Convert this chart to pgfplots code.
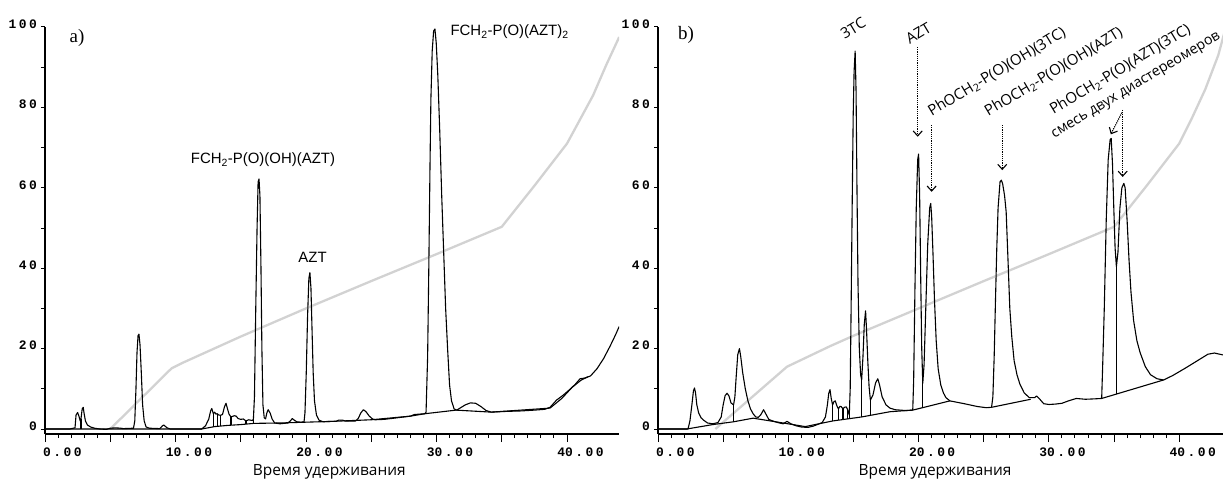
\documentclass[border=0pt]{standalone}
\usepackage{fontspec}
\usepackage{pgfplots}
\pgfplotsset{compat=1.18}
\usetikzlibrary{arrows.meta}
\setmainfont{Liberation Sans}
\newfontfamily\tickfont[LetterSpace=19]{Liberation Mono}
\newfontfamily\osans{Open Sans}
\newfontfamily\serifl{Liberation Serif}
\definecolor{grad}{RGB}{210,210,210}
\tikzset{arr/.style={densely dotted, line width=1.2bp, -{Straight Barb[length=5bp,width=9bp,line width=1.1bp]}}}
\pgfplotsset{
  chrom/.style={
    scale only axis, clip mode=individual, anchor=south west,
    height=407bp, xmin=0, ymin=-1.24, ymax=100,
    axis x line=bottom, axis y line=left,
    x axis line style={-, line width=1.3bp},
    y axis line style={-, line width=1.3bp},
    xtick={0,5,...,40},
    xticklabels={0.00,,\makebox[0pt][r]{1}0.00,,\makebox[0pt][r]{2}0.00,,\makebox[0pt][r]{3}0.00,,\makebox[0pt][r]{4}0.00},
    minor x tick num=4,
    ytick={0,20,...,100}, minor ytick={0,10,...,100},
    yticklabels={0,20,40,60,80,100},
    major y tick style={draw=none},
    tick align=outside, major tick length=8bp, minor tick length=4bp,
    every tick/.style={black, line width=1bp},
    tick label style={font=\tickfont\bfseries\fontsize{13}{14}\selectfont, inner sep=0pt},
    xticklabel style={anchor=north west, xshift=-2bp, yshift=-6bp},
    yticklabel style={anchor=east, xshift=0bp, yshift=3bp},
  },
  cline/.style={black, line width=1.1bp, line join=round, mark=none},
  gline/.style={grad, line width=2.3bp, line join=round, mark=none},
}
\begin{document}
\begin{tikzpicture}
\path[use as bounding box] (0,0) rectangle (1223bp,482bp);
% ---------------- panel a ----------------
\begin{axis}[chrom, at={(45bp,48bp)}, width=574.2bp, xmax=44]
\addplot[gline] coordinates {(5.0,0) (9.7,15.1) (10.5,16.4) (12,18.6) (15,23) (20,30) (25,36.8) (30,43.5) (35,50.3) (37.5,60.5) (40,71) (41,77) (42,83) (43,90.5) (44,97.5)};
\addplot[cline] coordinates {(0,0) (1.9,0) (2.3,0.3) (2.38,3.5) (2.5,4.1) (2.6,3.2) (2.7,2.0) (2.76,2.6) (2.85,5.0) (2.93,5.4) (3.0,3.8) (3.1,2.0) (3.25,1.0) (3.5,0.5) (3.8,0.2) (4.2,0) (4.7,-0.1) (5.0,0.2) (5.4,0.3) (5.8,0.2) (6.0,0.1) (6.78,0.2) (6.88,2) (6.97,10) (7.05,19) (7.13,23.2) (7.2,23.6) (7.28,21) (7.38,14) (7.48,6) (7.6,2) (7.75,0.5) (8.0,0.2) (8.8,0.1) (9.0,0.8) (9.1,1.0) (9.35,0.3) (9.6,0) (12.0,0) (12.3,0.8) (12.55,2.5) (12.7,4.6) (12.78,5.1) (12.9,3.8) (13.0,4.2) (13.1,3.7) (13.2,3.8) (13.3,3.5) (13.45,3.4) (13.6,3.6) (13.75,5.5) (13.87,6.4) (13.97,5.2) (14.1,3.7) (14.25,3.0) (14.5,3.3) (14.65,3.2) (14.8,2.6) (15.0,2.4) (15.2,2.5) (15.4,2.0) (15.6,2.3) (15.9,2.1) (15.97,2.5) (16.05,8) (16.15,30) (16.25,50) (16.33,61.5) (16.4,62.2) (16.47,58) (16.55,40) (16.62,20) (16.7,6) (16.8,2.8) (16.9,2.5) (17.0,4.0) (17.1,4.8) (17.25,4.0) (17.4,2.5) (17.6,1.5) (18.0,1.3) (18.6,1.5) (18.8,2.0) (18.95,2.6) (19.1,2.2) (19.3,1.8) (19.6,1.7) (19.85,1.8) (19.92,4) (20.02,14) (20.12,28) (20.22,37.5) (20.3,38.9) (20.38,35) (20.46,25) (20.55,14) (20.65,7) (20.8,3.5) (21.0,2.2) (21.3,1.8) (22.0,1.9) (22.3,1.9) (22.5,2.2) (22.8,2.2) (23.0,2.0) (23.8,2.0) (24.0,2.6) (24.2,4.0) (24.4,4.8) (24.6,4.3) (24.85,3.2) (25.1,2.5) (25.3,2.3) (26,2.4) (27,2.8) (28,3.2) (28.3,3.6) (29.1,3.8) (29.2,4.2) (29.32,18) (29.41,40) (29.5,65) (29.57,82) (29.67,94) (29.78,99) (29.88,99.5) (29.98,96) (30.1,88) (30.25,74) (30.4,58) (30.55,44) (30.7,30) (30.85,20) (31.0,11) (31.15,7) (31.35,5.0) (31.55,4.7) (31.8,5.2) (32.2,6.0) (32.6,6.5) (33.0,6.4) (33.4,5.6) (33.8,4.6) (34.2,4.2) (34.8,4.3) (35.5,4.4) (36.5,4.5) (37.5,4.7) (38.3,4.9) (38.7,5.4) (39.2,7.2) (39.7,8.4) (40.2,9.8) (40.6,11) (41.0,12.5) (41.4,12.7) (41.8,13.2) (42.3,15) (42.8,17.5) (43.3,20.6) (43.7,23.3) (44.0,25.5)};
\addplot[cline] coordinates {(0,0) (12.0,0) (13.0,0.6) (14.0,0.9) (15.0,1.1) (16.0,1.4) (18.0,1.5) (20.0,1.7) (22.0,1.9) (25.0,2.3) (28.0,3.2) (29.1,3.8) (31.5,4.7) (34.2,4.2) (38.7,5.2) (39.6,7.6) (40.4,10.4) (41.1,12.2) (41.6,13.0)};
\addplot[cline] coordinates {(2.76,2.6) (2.76,0)};
\addplot[cline] coordinates {(12.9,3.8) (12.9,0.5)};
\addplot[cline] coordinates {(13.2,3.8) (13.2,0.7)};
\addplot[cline] coordinates {(13.45,3.4) (13.45,0.8)};
\addplot[cline] coordinates {(14.25,3.0) (14.25,0.9)};
\addplot[cline] coordinates {(15.4,2.0) (15.4,1.2)};
\addplot[cline] coordinates {(15.97,2.5) (15.97,1.4)};
\node[font=\serifl\fontsize{19}{20}\selectfont] at (axis cs:2.45,97.3) {a)};
\node[font=\fontsize{15}{17}\selectfont] at (axis cs:16.7,66.9) {FCH\textsubscript{2}-P(O)(OH)(AZT)};
\node[font=\fontsize{15}{17}\selectfont] at (axis cs:20.5,42.8) {AZT};
\node[font=\fontsize{15}{17}\selectfont] at (axis cs:35.6,98.8) {FCH\textsubscript{2}-P(O)(AZT)\textsubscript{2}};
\node[font=\osans\fontsize{15.5}{17}\selectfont] at (axis description cs:0.495,-0.094) {Время удерживания};
\end{axis}
% ---------------- panel b ----------------
\begin{axis}[chrom, at={(658bp,48bp)}, width=565.5bp, xmax=43.4]
\addplot[gline] coordinates {(4.4,0) (9.9,15.5) (11,17.2) (13.2,20.6) (15,23.2) (20,30) (25,36.8) (30,43.5) (35,50.3) (37.5,60.5) (40,71) (41,77.5) (42,84.5) (43,93) (43.5,99)};
\addplot[cline] coordinates {(0,0) (2.3,0) (2.45,2) (2.6,6) (2.72,9.5) (2.8,10.2) (2.88,9) (2.98,6) (3.12,4) (3.3,2.8) (3.5,2.2) (3.8,1.5) (4.2,1.3) (4.6,1.6) (4.85,3) (5.0,6) (5.15,8.3) (5.3,8.9) (5.45,8.2) (5.6,6.5) (5.8,6.0) (5.9,8) (6.0,13) (6.12,18.5) (6.25,20) (6.35,18) (6.5,14) (6.7,10) (6.9,7) (7.1,5) (7.3,3.8) (7.5,3.0) (7.7,2.9) (7.9,3.6) (8.1,4.8) (8.3,3.6) (8.5,2.4) (8.8,2.0) (9.2,1.6) (9.6,1.3) (9.9,1.9) (10.2,1.3) (10.6,0.8) (11.0,0.5) (11.5,0.4) (11.9,0.7) (12.3,1.2) (12.6,1.6) (12.85,3.0) (13.0,6.0) (13.1,8.8) (13.2,9.8) (13.3,7.5) (13.4,6.0) (13.5,6.8) (13.6,7.0) (13.75,5.6) (13.85,5.0) (13.95,5.6) (14.05,5.6) (14.2,5.0) (14.3,5.4) (14.45,5.5) (14.55,4.8) (14.68,3.5) (14.75,10) (14.82,30) (14.9,55) (14.98,78) (15.05,89) (15.13,94) (15.2,84) (15.27,60) (15.35,36) (15.45,20) (15.55,13.5) (15.63,12.2) (15.73,18) (15.83,26) (15.93,29.4) (16.0,25) (16.1,17) (16.2,10.5) (16.3,7.2) (16.5,8.5) (16.7,11.5) (16.87,12.5) (17.0,11) (17.2,8) (17.5,6) (17.8,5.2) (18.2,4.8) (19.0,4.6) (19.55,4.7) (19.62,12) (19.72,35) (19.82,55) (19.93,67) (20.0,68.4) (20.08,58) (20.16,38) (20.24,20) (20.32,11.4) (20.42,16) (20.55,30) (20.7,46) (20.85,55) (20.93,56.1) (21.0,53) (21.1,44) (21.22,32) (21.35,22) (21.5,15) (21.7,11) (21.9,9) (22.1,7.8) (22.4,7.0) (23.5,6.3) (24.5,5.6) (25.2,5.3) (25.6,5.4) (25.7,8) (25.8,18) (25.9,32) (26.0,45) (26.1,55) (26.25,61.5) (26.35,61.9) (26.45,61) (26.6,58) (26.72,54) (26.85,43) (27.0,30) (27.15,23) (27.33,17) (27.55,13.5) (27.77,11.2) (28.1,9) (28.5,7.8) (28.9,7.8) (29.05,8.2) (29.25,7.6) (29.6,6.3) (30.0,6.1) (30.5,6.2) (31.0,6.4) (31.5,7.0) (32.1,7.6) (32.8,7.4) (33.5,7.5) (34.05,7.6) (34.12,15) (34.25,30) (34.4,52) (34.55,67) (34.7,72) (34.78,72.3) (34.88,66) (34.98,55) (35.08,45) (35.18,40.4) (35.3,44) (35.45,55) (35.6,60) (35.75,61.1) (35.85,60) (36.0,52) (36.15,42) (36.3,34) (36.5,27) (36.75,22) (37.0,19) (37.4,15.5) (37.8,13.5) (38.3,12.5) (38.8,12.2) (39.5,13.3) (40.5,15.2) (41.5,17.2) (42.2,18.6) (42.7,18.9) (43.4,18.4)};
\addplot[cline] coordinates {(0,0) (2.2,0) (4.2,1.1) (5.8,1.8) (7.3,2.7) (9.6,1.5) (11.3,0.6) (13.4,2.0) (15.63,3.0) (17.8,4.3) (19.55,4.7) (22.4,7.0)};
\addplot[cline] coordinates {(25.6,5.4) (28.6,7.4)};
\addplot[cline] coordinates {(34.05,7.6) (38.8,12.2)};
\addplot[cline] coordinates {(5.8,6.0) (5.8,1.8)};
\addplot[cline] coordinates {(13.4,6.0) (13.4,2.0)};
\addplot[cline] coordinates {(13.85,5.0) (13.85,2.2)};
\addplot[cline] coordinates {(14.2,5.0) (14.2,2.4)};
\addplot[cline] coordinates {(14.55,4.8) (14.55,2.6)};
\addplot[cline] coordinates {(14.68,3.5) (14.68,2.7)};
\addplot[cline] coordinates {(15.63,12.2) (15.63,3.0)};
\addplot[cline] coordinates {(16.3,7.2) (16.3,3.4)};
\addplot[cline] coordinates {(20.32,11.4) (20.32,5.3)};
\addplot[cline] coordinates {(35.18,40.4) (35.18,8.7)};
\draw[arr] (axis cs:19.93,95) -- (axis cs:19.93,72.7);
\draw[arr] (axis cs:21.0,75.6) -- (axis cs:21.0,59);
\draw[arr] (axis cs:26.42,75.6) -- (axis cs:26.42,64.4);
\draw[arr] (axis cs:35.6,78.7) -- (axis cs:34.75,73.3);
\draw[arr] (axis cs:35.66,79.4) -- (axis cs:35.66,62.7);
\node[font=\serifl\fontsize{19}{20}\selectfont] at (axis cs:2.15,98) {b)};
\node[font=\osans\fontsize{15}{17}\selectfont, rotate=31] at (axis cs:14.97,99.7) {3TC};
\node[font=\osans\fontsize{15}{17}\selectfont, rotate=31] at (axis cs:19.98,98.5) {AZT};
\node[font=\osans\fontsize{15}{17}\selectfont, rotate=31, anchor=base west, inner sep=0pt] at (axis cs:21.0,77.7) {PhOCH\textsubscript{2}-P(O)(OH)(3TC)};
\node[font=\osans\fontsize{15}{17}\selectfont, rotate=31, anchor=base west, inner sep=0pt] at (axis cs:25.35,77.7) {PhOCH\textsubscript{2}-P(O)(OH)(AZT)};
\node[font=\osans\fontsize{15}{17}\selectfont, rotate=31, anchor=base west, inner sep=0pt] at (axis cs:30.34,78.1) {PhOCH\textsubscript{2}-P(O)(AZT)(3TC)};
\node[font=\osans\fontsize{14.3}{16}\selectfont, rotate=31, anchor=base west, inner sep=0pt] at (axis cs:30.4,72.3) {смесь двух диастереомеров};
\node[font=\osans\fontsize{15.5}{17}\selectfont] at (axis description cs:0.49,-0.094) {Время удерживания};
\end{axis}
\end{tikzpicture}
\end{document}
